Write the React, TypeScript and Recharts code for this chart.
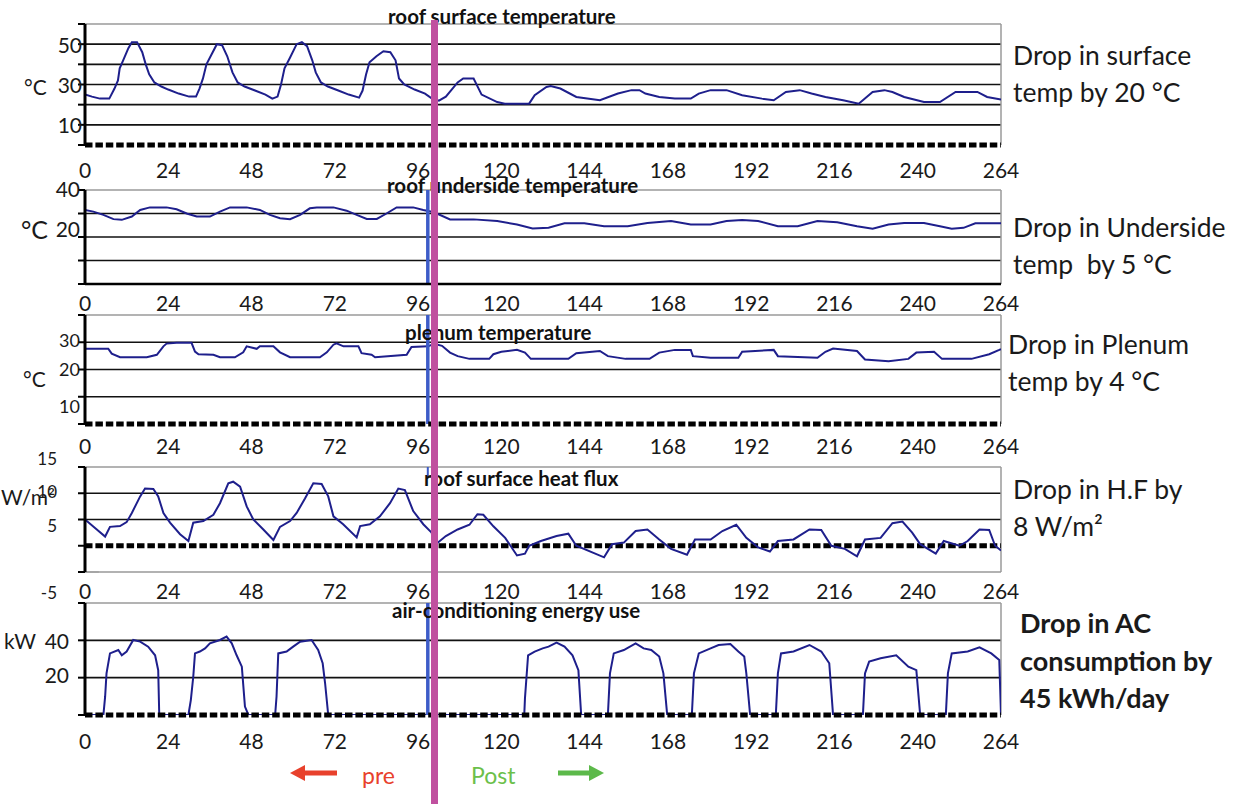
import React from "react";
import { LineChart, Line, XAxis, YAxis, ReferenceLine } from "recharts";

// hours since start of monitoring
const HOUR_TICKS = [0, 24, 48, 72, 96, 120, 144, 168, 192, 216, 240, 264];

// [hour, value] points
const roofSurfaceTemp: [number, number][] = [
  [0, 25], [2, 24], [4.3, 23], [7, 23], [8.5, 28], [9.5, 32], [10, 38], [11, 42], [12.5, 48], [13.5, 51],
  [15, 51], [16.5, 46], [17.5, 40], [18.5, 35], [20, 31], [22, 29], [24, 27.5], [27, 25.5], [30, 24], [32, 24],
  [33, 28], [34, 33], [35, 40], [36.5, 45], [38, 50], [39.5, 49.5], [41, 44], [42.5, 36], [44, 31], [46, 29],
  [49, 27], [52, 25], [54, 23], [55.5, 24], [56.5, 30], [57.5, 38], [59, 43], [61, 50], [62.5, 51], [64, 49],
  [65.5, 42], [66.5, 36], [68, 31], [70, 29], [73, 27], [76, 25], [79, 23.5], [80, 27], [81, 35], [82, 41],
  [84, 44], [86, 46.5], [88, 46], [89.5, 42], [90.5, 33], [92, 30], [95, 27.5], [98, 25.5], [100, 23], [102, 22],
  [104, 24], [107.4, 31], [109, 33], [112, 33], [114.3, 25], [118.8, 21.3], [121, 20.5], [128, 20.5], [129.6, 24.7], [133, 28.8],
  [134.2, 29.2], [137, 28], [141.6, 23.8], [148.4, 22.2], [153.6, 25.5], [157.5, 27.2], [159.8, 27.2], [161.5, 25.5], [165.5, 23.8], [170, 23],
  [174.6, 23], [176.9, 25.5], [180.3, 27.2], [184.9, 27.2], [189.4, 24.7], [195.1, 23], [198.5, 22.2], [202, 26.3], [206, 27.2], [209.4, 25.5],
  [213.4, 23.8], [218.5, 22.2], [223, 20.5], [227, 26.3], [230.4, 27.2], [232.7, 26.3], [236.1, 23.8], [241.8, 21.3], [246.4, 21.3], [250.9, 26.3],
  [257.2, 26.3], [260, 23.8], [264, 22.5],
];

const roofUndersideTemp: [number, number][] = [
  [0, 31.5], [2.4, 30.8], [5.3, 29.4], [8.2, 27.6], [10.6, 27.3], [13.5, 28.7], [15.9, 31.5], [18.7, 32.6], [23.5, 32.6], [26.4, 31.8],
  [29.3, 30], [32.2, 28.7], [36, 28.7], [38.9, 30.8], [41.8, 32.6], [46.6, 32.6], [50.4, 31.5], [53.3, 29.4], [56.2, 28], [59.1, 27.6],
  [62, 29.4], [64.8, 32.2], [66.8, 32.6], [71.6, 32.6], [75.4, 31.2], [78.3, 29.4], [81.2, 27.7], [84.1, 27.7], [86.9, 30], [89.8, 32.6],
  [94.6, 32.6], [97.5, 31.5], [100.6, 30.5], [105.2, 27.5], [112, 27.5], [118.8, 26.8], [124.5, 25.3], [129, 23.6], [133.6, 23.9], [138.2, 25.8],
  [143.9, 25.8], [149.6, 24.6], [156.4, 24.6], [162.1, 26], [168.9, 26.8], [174.6, 25.3], [180.3, 25.3], [184.9, 26.8], [189.4, 27.2], [194, 26.8],
  [199.7, 24.6], [205.4, 24.6], [211.1, 26.8], [216.8, 26.3], [222.5, 24.6], [227, 23.5], [231.6, 25.3], [236.1, 26], [241.8, 26], [246.4, 24.6],
  [249.8, 23.5], [253.2, 23.9], [256.6, 25.8], [264, 25.8],
];

const plenumTemp: [number, number][] = [
  [0, 27.6], [6.7, 27.6], [7.7, 25.8], [10.1, 24.5], [17.8, 24.5], [20.7, 25.4], [22.6, 28.5], [23.5, 29.5], [26.4, 29.8], [30.7, 29.8],
  [31.7, 26.6], [32.7, 25.6], [37, 25.4], [38.9, 24.5], [43.2, 24.5], [45.6, 26.3], [46.6, 28.5], [49.5, 27.6], [50.4, 28.5], [54.3, 28.5],
  [56.2, 26.3], [59.1, 24.5], [67.7, 24.5], [69.7, 26.3], [71.6, 29.1], [72.5, 29.6], [74.5, 28.5], [78.8, 28.5], [79.7, 26], [82.6, 25.4],
  [83.6, 24.5], [92.7, 25.4], [94.1, 28.3], [98.9, 28.5], [100.6, 29.4], [102.9, 28.7], [105.2, 26.2], [107.4, 24.9], [110.8, 23.9], [116.5, 23.9],
  [117.7, 25.6], [120, 26.5], [124.5, 27.2], [126.8, 26.2], [128.5, 23.9], [139.3, 23.9], [141.6, 26], [148.4, 26.8], [150.7, 24.9], [155.8, 23.9],
  [162.7, 23.9], [165.5, 26.2], [170, 27.2], [174.6, 27.2], [175.2, 24.9], [180.3, 24.3], [188.3, 24.3], [189.4, 26.5], [198.5, 27.2], [199.7, 24.9],
  [211.1, 24.3], [213.4, 26.5], [215.6, 27.7], [222.5, 26.8], [224.8, 23.7], [231.6, 23], [237.3, 23.9], [239.6, 26.2], [244.7, 26.5], [247, 23.9],
  [255.5, 23.9], [260.6, 25.6], [263.5, 27.2], [264, 27.5],
];

const roofHeatFlux: [number, number][] = [
  [0, 5], [3.4, 3.1], [5.8, 1.75], [7.2, 3.6], [10.1, 3.75], [12, 4.5], [13.5, 6.25], [15.9, 9.4], [17.3, 10.9], [19.7, 10.8],
  [21.1, 9.4], [22.6, 6.25], [24.5, 4.4], [27.4, 2.2], [29.8, 0.9], [31.2, 4.4], [34.1, 4.7], [37, 5.9], [38.9, 8.1], [41.3, 11.9],
  [42.7, 12.2], [44.7, 11.25], [46.6, 7.5], [48.5, 5], [51.4, 3.1], [54.3, 1.1], [56.2, 3.6], [59.1, 4.7], [61, 6.25], [63.4, 9],
  [65.8, 11.9], [68.2, 11.75], [70.1, 9.4], [71.6, 5.6], [74.4, 4.1], [78.3, 1.6], [79.3, 3.75], [82.1, 4.1], [85, 5.6], [87.9, 8.1],
  [90.3, 10.9], [92.2, 10.6], [94.6, 6.6], [97.5, 4.1], [99.9, 2.5], [100.6, 0], [104, 1.85], [107.4, 3.1], [110.8, 4], [113.1, 6],
  [114.8, 5.9], [117.7, 3.7], [121.1, 1.5], [124.5, -1.85], [126.8, -1.5], [128, 0], [131.4, 0.9], [135.9, 1.85], [139.3, 2.3], [141.6, 0],
  [149.6, -2.2], [151.9, 0.3], [155.3, 0.6], [158.7, 2.8], [162.1, 3.1], [165.5, 1.2], [168.9, -0.6], [173.5, -1.7], [175.8, 1.2], [180.3, 1.2],
  [183.7, 2.8], [187.7, 4], [190.6, 1.5], [194, -0.3], [197.4, -1.1], [199.7, 0.9], [204.2, 1.2], [208.8, 3.1], [212.2, 3], [215.1, 0],
  [219, -0.6], [222.5, -2], [224.8, 1.2], [229.3, 1.5], [232.7, 4.3], [235.6, 4.6], [238.4, 2.5], [240.7, 0.3], [245.2, -1.5], [247.5, 0.9],
  [252, 0], [254.4, 0.9], [257.8, 3.1], [260.6, 3], [262.3, 0], [264, -0.9],
];

const acEnergy: [number, number][] = [
  [0, 0], [5.3, 0], [5.8, 9.8], [6.2, 22.3], [7.2, 33], [9.6, 34.8], [10.6, 32], [12, 34], [13.9, 40.2], [15.9, 39.3],
  [18.2, 36.6], [20.2, 32], [21.1, 24], [21.4, 0], [29.8, 0], [30.5, 8], [31.2, 20.5], [31.7, 33], [33.1, 34], [34.6, 35.7],
  [36, 38.4], [38.9, 40.2], [40.8, 42], [42.3, 38.4], [43.7, 32], [45.2, 25.9], [46.1, 4.5], [47.1, 0], [54.8, 0], [55.2, 9.8],
  [55.7, 33], [58.1, 34], [60, 36.6], [62, 39.3], [65.3, 40.2], [67.2, 34.8], [68.5, 27.7], [69.2, 17], [70.1, 0], [126.6, 0],
  [126.8, 8.9], [127.7, 32], [129.6, 34], [131.9, 35.7], [133.6, 36.6], [135.9, 38.8], [138.2, 36.6], [140.5, 32], [142.2, 24], [143, 0],
  [150.7, 0], [151.3, 22.3], [152.4, 33], [155.3, 34.8], [158.7, 38.4], [161, 35.7], [163.2, 34.8], [165.5, 31.3], [166.7, 22.3], [167.8, 0],
  [174.9, 0], [175.5, 22.3], [176.9, 33], [180.3, 35.7], [182.6, 37.5], [186, 38], [188.3, 34], [190, 31.3], [190.6, 22.3], [191.7, 0],
  [199.1, 0], [199.7, 22.3], [200.6, 33], [204.2, 34], [208.8, 37.5], [212.2, 34], [214.5, 27.7], [215.6, 0], [224.2, 0], [224.8, 22.3],
  [226, 28.6], [229.3, 30.4], [233.8, 32], [237.3, 25.9], [239.6, 24], [240.7, 0], [248.1, 0], [248.7, 22.3], [249.8, 33], [254.4, 34],
  [257.8, 36.2], [261.2, 33], [263.5, 29.5], [264, 0],
];

const FONT = "Lato, 'Open Sans', sans-serif";
const LINE = "#1e1f8c";
const MT = 24;
const XH = 40;
const DASHED = { stroke: "#000", strokeWidth: 5, strokeDasharray: "7.5 2.9" };

type YLabel = { v: number; dy: number };
type PanelCfg = {
  top: number;
  plotHeight: number;
  points: [number, number][];
  domain: [number, number];
  yTicks: number[];
  grid: number[];
  yLabels: YLabel[];
  yLabelDx: number;
  yFont: number;
  xLabelDy: number;
  xAxisLine: object;
  zeroDashed?: boolean;
  marker?: "full" | "short";
};

const panels: PanelCfg[] = [
  {
    top: 24, plotHeight: 121, points: roofSurfaceTemp, domain: [0, 60], yTicks: [0, 10, 20, 30, 40, 50, 60],
    grid: [10, 20, 30, 40, 50], yLabels: [{ v: 50, dy: 0 }, { v: 30, dy: 0 }, { v: 10, dy: 0 }],
    yLabelDx: 2, yFont: 21, xLabelDy: 22, xAxisLine: DASHED,
  },
  {
    top: 190, plotHeight: 94, points: roofUndersideTemp, domain: [0, 40], yTicks: [0, 10, 20, 30, 40],
    grid: [10, 20, 30], yLabels: [{ v: 40, dy: -2 }, { v: 20, dy: -9 }],
    yLabelDx: 0, yFont: 21, xLabelDy: 16, xAxisLine: { stroke: "#000", strokeWidth: 2.5 }, marker: "full",
  },
  {
    top: 315, plotHeight: 109, points: plenumTemp, domain: [0, 40], yTicks: [0, 10, 20, 30, 40],
    grid: [10, 20, 30], yLabels: [{ v: 30, dy: -2 }, { v: 20, dy: -1 }, { v: 10, dy: 9 }],
    yLabelDx: 0, yFont: 18, xLabelDy: 19, xAxisLine: DASHED, marker: "full",
  },
  {
    top: 467, plotHeight: 105, points: roofHeatFlux, domain: [-5, 15], yTicks: [-5, 0, 5, 10, 15],
    grid: [5, 10], yLabels: [{ v: 15, dy: -9 }, { v: 10, dy: -2 }, { v: 5, dy: 6 }, { v: -5, dy: 20 }],
    yLabelDx: -23, yFont: 17, xLabelDy: 16, xAxisLine: { stroke: "#999", strokeWidth: 1.5 }, zeroDashed: true, marker: "short",
  },
  {
    top: 603, plotHeight: 112, points: acEnergy, domain: [0, 60], yTicks: [0, 20, 40, 60],
    grid: [20, 40], yLabels: [{ v: 40, dy: 0 }, { v: 20, dy: -3 }],
    yLabelDx: -11, yFont: 21, xLabelDy: 23, xAxisLine: DASHED, marker: "full",
  },
];

function Panel({ cfg }: { cfg: PanelCfg }) {
  const data = cfg.points.map(([h, v]) => ({ h, v }));
  const height = MT + cfg.plotHeight + XH;
  const [lo, hi] = cfg.domain;
  return (
    <div style={{ position: "absolute", left: 0, top: cfg.top - MT }}>
      <LineChart width={1237} height={height} data={data} margin={{ top: MT, right: 236, bottom: 0, left: 0 }}>
        <XAxis
          dataKey="h"
          type="number"
          domain={[0, 264]}
          ticks={HOUR_TICKS}
          interval={0}
          height={XH}
          tickSize={0}
          tickLine={false}
          axisLine={cfg.xAxisLine}
          allowDataOverflow
          tick={(p: any) => (
            <text x={p.x} y={p.y + cfg.xLabelDy} textAnchor="middle" dominantBaseline="central" fontSize={21} fill="#1a1a1a" fontFamily={FONT}>
              {p.payload.value}
            </text>
          )}
        />
        <YAxis
          type="number"
          domain={cfg.domain}
          ticks={cfg.yTicks}
          interval={0}
          width={85}
          tickSize={7}
          tickMargin={0}
          allowDataOverflow
          axisLine={{ stroke: "#000", strokeWidth: 3 }}
          tickLine={{ stroke: "#000", strokeWidth: 2 }}
          tick={(p: any) => {
            const lab = cfg.yLabels.find((l) => l.v === p.payload.value);
            if (!lab) return <g />;
            return (
              <text x={p.x + 2 + cfg.yLabelDx} y={p.y + lab.dy} textAnchor="end" dominantBaseline="central" fontSize={cfg.yFont} fill="#1a1a1a" fontFamily={FONT}>
                {p.payload.value}
              </text>
            );
          }}
        />
        {cfg.grid.map((g) => (
          <ReferenceLine key={g} y={g} stroke="#111" strokeWidth={1.6} />
        ))}
        <ReferenceLine y={hi} stroke="#9a9a9a" strokeWidth={1.5} />
        <ReferenceLine x={264} stroke="#9a9a9a" strokeWidth={1.5} />
        {cfg.zeroDashed && <ReferenceLine y={0} {...DASHED} />}
        <Line dataKey="v" type="linear" stroke={LINE} strokeWidth={2} dot={false} isAnimationActive={false} />
        {cfg.marker === "full" && <ReferenceLine x={98.8} stroke="#3d5cc8" strokeWidth={3.5} />}
        {cfg.marker === "short" && (
          <ReferenceLine segment={[{ x: 98.8, y: hi }, { x: 98.8, y: hi - 2 }]} stroke="#3d5cc8" strokeWidth={2} />
        )}
        {lo < 0 && <ReferenceLine segment={[{ x: 0, y: lo }, { x: 4, y: lo }]} stroke="#999" strokeWidth={1} />}
      </LineChart>
    </div>
  );
}

const titles = [
  { text: "roof surface temperature", x: 388, y: 16 },
  { text: "roof underside temperature", x: 387, y: 185 },
  { text: "plenum temperature", x: 405, y: 332 },
  { text: "roof surface heat flux", x: 424, y: 478 },
  { text: "air-conditioning energy use", x: 392, y: 610 },
];

const notes = [
  { text: "Drop in surface", x: 1013, y: 55, bold: false },
  { text: "temp by 20 °C", x: 1013, y: 92, bold: false },
  { text: "Drop in Underside", x: 1013, y: 227, bold: false },
  { text: "temp  by 5 °C", x: 1013, y: 264, bold: false },
  { text: "Drop in Plenum", x: 1008, y: 344, bold: false },
  { text: "temp by 4 °C", x: 1008, y: 381, bold: false },
  { text: "Drop in H.F by", x: 1013, y: 489, bold: false },
  { text: "8 W/m²", x: 1013, y: 526, bold: false },
  { text: "Drop in AC", x: 1020, y: 622, bold: true },
  { text: "consumption by", x: 1020, y: 660, bold: true },
  { text: "45 kWh/day", x: 1020, y: 697, bold: true },
];

const units = [
  { text: "°C", x: 24, y: 86, size: 21 },
  { text: "°C", x: 21, y: 229, size: 25 },
  { text: "°C", x: 23, y: 378, size: 21 },
  { text: "W/m²", x: 1, y: 496, size: 21 },
  { text: "kW", x: 4, y: 640, size: 21 },
];

export default function App() {
  return (
    <div style={{ position: "fixed", left: 0, top: 0, width: 1237, height: 804, background: "#fff", overflow: "hidden" }}>
      {panels.map((p, i) => (
        <Panel key={i} cfg={p} />
      ))}
      <svg width={1237} height={804} style={{ position: "absolute", left: 0, top: 0, pointerEvents: "none" }} fontFamily={FONT}>
        {units.map((u, i) => (
          <text key={i} x={u.x} y={u.y} fontSize={u.size} dominantBaseline="central" fill="#1a1a1a">
            {u.text}
          </text>
        ))}
        {titles.map((t, i) => (
          <text key={i} x={t.x} y={t.y} fontSize={20.5} fontWeight={700} dominantBaseline="central" fill="#111">
            {t.text}
          </text>
        ))}
        {notes.map((n, i) => (
          <text key={i} x={n.x} y={n.y} fontSize={n.bold ? 27 : 26.5} fontWeight={n.bold ? 700 : 400} dominantBaseline="central" fill="#1a1a1a" style={{ whiteSpace: "pre" }}>
            {n.text}
          </text>
        ))}
        <rect x={431} y={20} width={7} height={784} fill="#c0509f" />
        <line x1={337} y1={773} x2={302} y2={773} stroke="#e8412c" strokeWidth={5} />
        <polygon points="290,773 305,765 305,781" fill="#e8412c" />
        <text x={362} y={775} fontSize={23} dominantBaseline="central" fill="#e8412c">pre</text>
        <text x={471} y={775} fontSize={23} dominantBaseline="central" fill="#6cc04a">Post</text>
        <line x1={558} y1={773} x2={592} y2={773} stroke="#5cb94a" strokeWidth={5} />
        <polygon points="604,773 589,765 589,781" fill="#5cb94a" />
      </svg>
    </div>
  );
}
